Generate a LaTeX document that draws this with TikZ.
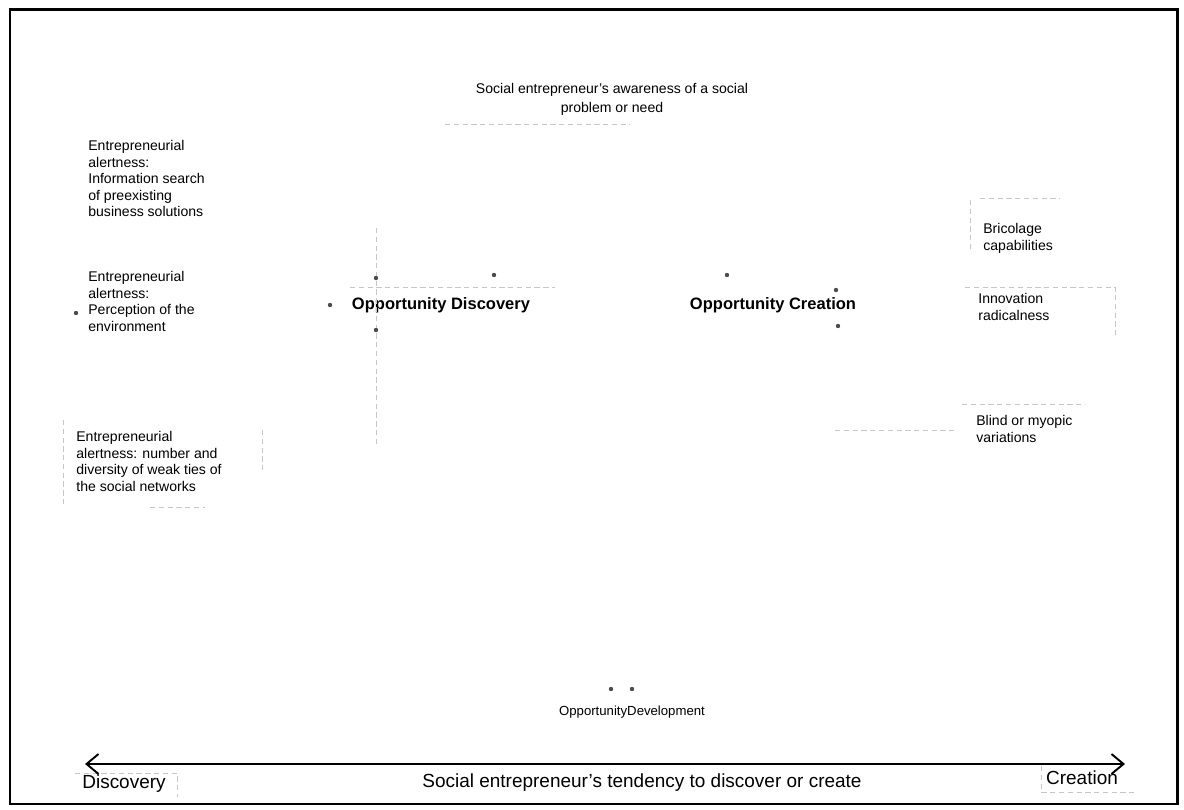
\documentclass[tikz,border=0pt]{standalone}
\usepackage{fontspec}
\setmainfont{Liberation Sans}
\usetikzlibrary{arrows.meta,positioning}

\begin{document}
\begin{tikzpicture}[x=0.02cm,y=-0.02cm,
  txt/.style={align=left,anchor=north west,inner sep=0pt,font=\fontsize{8}{9.4}\selectfont},
  opp/.style={inner sep=0pt,font=\fontsize{9.4}{11}\selectfont\bfseries},
  lbl/.style={inner sep=0pt,font=\fontsize{10.8}{12}\selectfont},
  ghost/.style={draw=black!22,densely dashed,line width=0.5pt},
  speck/.style={fill=black!70,inner sep=0pt,minimum size=2.5pt,circle},
  arr/.style={{Straight Barb[length=2.4mm,width=4mm]}-{Straight Barb[length=2.4mm,width=4mm]},line width=1.1pt}]
\useasboundingbox (0,0) rectangle (1184,810);
\draw[line width=1.7pt] (10,10) rectangle (1177,804);
% texts
\node[txt,anchor=north,align=center,font=\fontsize{8}{10.8}\selectfont] (aware) at (612,83) {Social entrepreneur's awareness of a social\\problem or need};
\node[txt] (al1) at (88,140) {Entrepreneurial\\alertness:\\Information search\\of preexisting\\business solutions};
\node[txt] (al2) at (88,271) {Entrepreneurial\\alertness:\\Perception of the\\environment};
\node[txt] (al3) at (76,431) {Entrepreneurial\\alertness: number and\\diversity of weak ties of\\the social networks};
\node[opp] (disc) at (441,305) {Opportunity Discovery};
\node[opp] (crea) at (773,305) {Opportunity Creation};
\node[txt] (bric) at (983,223) {Bricolage\\capabilities};
\node[txt] (innov) at (978,293) {Innovation\\radicalness};
\node[txt] (blind) at (976,415) {Blind or myopic\\variations};
\node[txt,anchor=center,font=\fontsize{7.5}{9}\selectfont] (dev) at (632,712) {OpportunityDevelopment};
\node[lbl] (tend) at (642,783) {Social entrepreneur's tendency to discover or create};
\node[lbl] (lD) at (124,784) {Discovery};
\node[lbl] (lC) at (1082,778) {Creation};
% faded remnants
\coordinate (a1) at (445,124); \coordinate (a2) at (630,124);
\coordinate (d1) at (376,228); \coordinate (d2) at (376,445);
\coordinate (d3) at (350,287); \coordinate (d4) at (555,287);
\coordinate (b1) at (970,200); \coordinate (b2) at (970,250); \coordinate (b3) at (980,198); \coordinate (b4) at (1060,198);
\coordinate (i1) at (965,287); \coordinate (i2) at (1115,287); \coordinate (i3) at (1115,335);
\coordinate (v1) at (835,430); \coordinate (v2) at (955,430); \coordinate (v3) at (962,404); \coordinate (v4) at (1085,404);
\coordinate (w1) at (63,420); \coordinate (w2) at (63,505); \coordinate (w3) at (150,507); \coordinate (w4) at (205,507);
\coordinate (w5) at (262,430); \coordinate (w6) at (262,470);
\coordinate (x1) at (75,773); \coordinate (x2) at (177,773); \coordinate (x3) at (177,797);
\coordinate (y1) at (1041,766); \coordinate (y2) at (1041,792); \coordinate (y3) at (1135,792);
\draw[ghost] (a1)--(a2); \draw[ghost] (d1)--(d2); \draw[ghost] (d3)--(d4);
\draw[ghost] (b1)--(b2); \draw[ghost] (b3)--(b4);
\draw[ghost] (i1)--(i2)--(i3); \draw[ghost] (v1)--(v2); \draw[ghost] (v3)--(v4);
\draw[ghost] (w1)--(w2); \draw[ghost] (w3)--(w4); \draw[ghost] (w5)--(w6);
\draw[ghost] (x1)--(x2)--(x3); \draw[ghost] (y1)--(y2)--(y3);
\foreach \p in {(376,278),(376,330),(494,275),(727,275),(836,290),(838,326),(611,689),(632,689),(76,313),(330,305)}
  \node[speck] at \p {};
% axis
\coordinate (ax1) at (85,764); \coordinate (ax2) at (1125,764);
\draw[arr] (ax1)--(ax2);
\end{tikzpicture}
\end{document}
